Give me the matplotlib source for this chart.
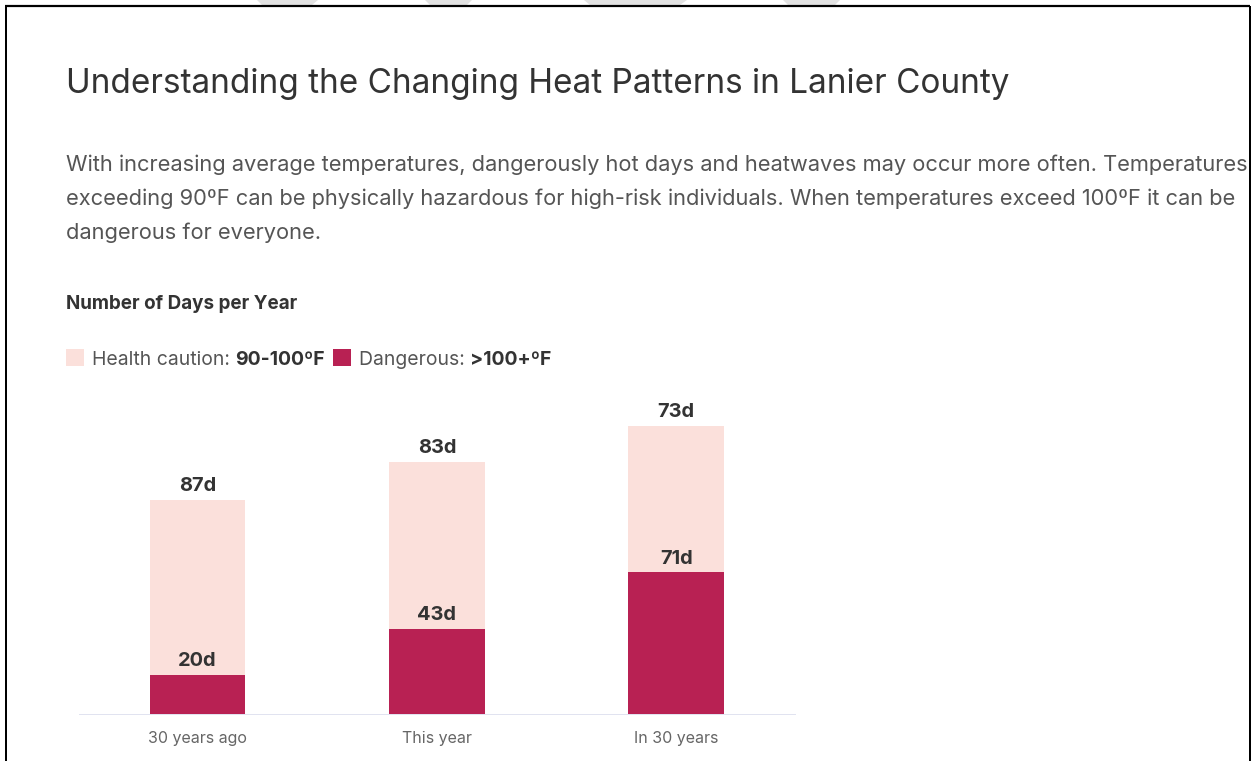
import matplotlib
matplotlib.use("Agg")
import matplotlib.pyplot as plt
from matplotlib.patches import Polygon, Rectangle
from matplotlib.lines import Line2D

# ---- data -------------------------------------------------------------
periods = ["30 years ago", "This year", "In 30 years"]
dangerous_days = [20, 43, 71]        # > 100ºF
caution_days = [87, 83, 73]          # 90-100ºF

title = "Understanding the Changing Heat Patterns in Lanier County"
body_lines = [
    "With increasing average temperatures, dangerously hot days and heatwaves may occur more often. Temperatures",
    "exceeding 90ºF can be physically hazardous for high-risk individuals. When temperatures exceed 100ºF it can be",
    "dangerous for everyone.",
]
chart_heading = "Number of Days per Year"
legend_parts = [
    ("Health caution: ", "90-100ºF"),
    ("Dangerous: ", ">100+ºF"),
]

# ---- style ------------------------------------------------------------
W, H, DPI = 1255, 761, 100
FONT = "Inter"
DARK_TEXT = "#333333"
GREY_TEXT = "#555555"
TICK_TEXT = "#666666"
CAUTION_COLOR = "#fbe0db"
DANGER_COLOR = "#b82153"
BASELINE_COLOR = "#e1e3f0"

fig = plt.figure(figsize=(W / DPI, H / DPI), dpi=DPI)
fig.patch.set_facecolor("white")


def fx(x):
    return x / W


def fy(y):
    return 1 - y / H


def pt(px):
    return px * 72 / DPI


# page frame and faint shapes peeking in above it
for xs in [(257, 318, 262, 312), (425, 472, 430, 467), (584, 687, 590, 680), (783, 840, 788, 835)]:
    a, b, c, d = xs
    fig.patches.append(Polygon([(fx(a), fy(0)), (fx(b), fy(0)), (fx(d), fy(5)), (fx(c), fy(5))],
                               closed=True, transform=fig.transFigure, facecolor="#e2e2e2",
                               edgecolor="none"))
fig.lines.append(Line2D([fx(5), fx(1250)], [fy(6), fy(6)], transform=fig.transFigure,
                        color="black", lw=pt(2.2), solid_capstyle="butt"))
fig.lines.append(Line2D([fx(5.5), fx(5.5)], [fy(6), fy(761)], transform=fig.transFigure,
                        color="black", lw=pt(2), solid_capstyle="butt"))
fig.lines.append(Line2D([fx(1250), fx(1250)], [fy(6), fy(761)], transform=fig.transFigure,
                        color="black", lw=pt(2), solid_capstyle="butt"))

# ---- header text ------------------------------------------------------
fig.text(fx(66), fy(93), title, family=FONT, fontsize=pt(33.3), color=DARK_TEXT,
         va="baseline", ha="left")
for i, line in enumerate(body_lines):
    fig.text(fx(66), fy(171 + 34 * i), line, family=FONT, fontsize=pt(21.85),
             color=GREY_TEXT, va="baseline", ha="left")
fig.text(fx(66), fy(309), chart_heading, family=FONT, fontsize=pt(18.8),
         weight="bold", color=DARK_TEXT, va="baseline", ha="left")

# ---- legend (swatch + regular label + bold range) --------------------
fig.canvas.draw()
renderer = fig.canvas.get_renderer()
x = 66
leg_base = 364.5
for (label, rng), color in zip(legend_parts, [CAUTION_COLOR, DANGER_COLOR]):
    fig.patches.append(Rectangle((fx(x), fy(366.5)), fx(17.5), 17.5 / H,
                                 transform=fig.transFigure, facecolor=color,
                                 edgecolor="none"))
    x += 26
    t1 = fig.text(fx(x), fy(leg_base), label, family=FONT, fontsize=pt(19.4),
                  color=GREY_TEXT, va="baseline", ha="left")
    x += t1.get_window_extent(renderer).width
    t2 = fig.text(fx(x), fy(leg_base), rng, family=FONT, fontsize=pt(19.4),
                  weight="bold", color=DARK_TEXT, va="baseline", ha="left")
    x += t2.get_window_extent(renderer).width + 8

# ---- stacked bars -----------------------------------------------------
ax_left, ax_right = 79, 796
ax_bottom = 715
px_per_day = 2.01
ymax = 170
ax = fig.add_axes([fx(ax_left), fy(ax_bottom), fx(ax_right - ax_left),
                   ymax * px_per_day / H])
ax.set_xlim(-0.495, 2.5)
ax.set_ylim(0, ymax)
ax.axis("off")

pos = list(range(len(periods)))
ax.bar(pos, dangerous_days, width=0.40, color=DANGER_COLOR, zorder=2)
ax.bar(pos, caution_days, width=0.40, bottom=dangerous_days, color=CAUTION_COLOR, zorder=2)
ax.axhline(0, color=BASELINE_COLOR, lw=pt(3), zorder=3)

for p, d, c in zip(pos, dangerous_days, caution_days):
    ax.annotate(f"{d}d", (p, d), xytext=(0, pt(8.5)), textcoords="offset points",
                ha="center", va="baseline", family=FONT, fontsize=pt(20),
                weight="bold", color=DARK_TEXT, zorder=4)
    ax.annotate(f"{c}d", (p, d + c), xytext=(0, pt(8.5)), textcoords="offset points",
                ha="center", va="baseline", family=FONT, fontsize=pt(20),
                weight="bold", color=DARK_TEXT, zorder=4)
    ax.annotate(periods[p], (p, 0), xytext=(0, -pt(28.5)), textcoords="offset points",
                ha="center", va="baseline", family=FONT, fontsize=pt(16),
                color=TICK_TEXT)

fig.savefig("out.png", dpi=DPI, facecolor="white")
